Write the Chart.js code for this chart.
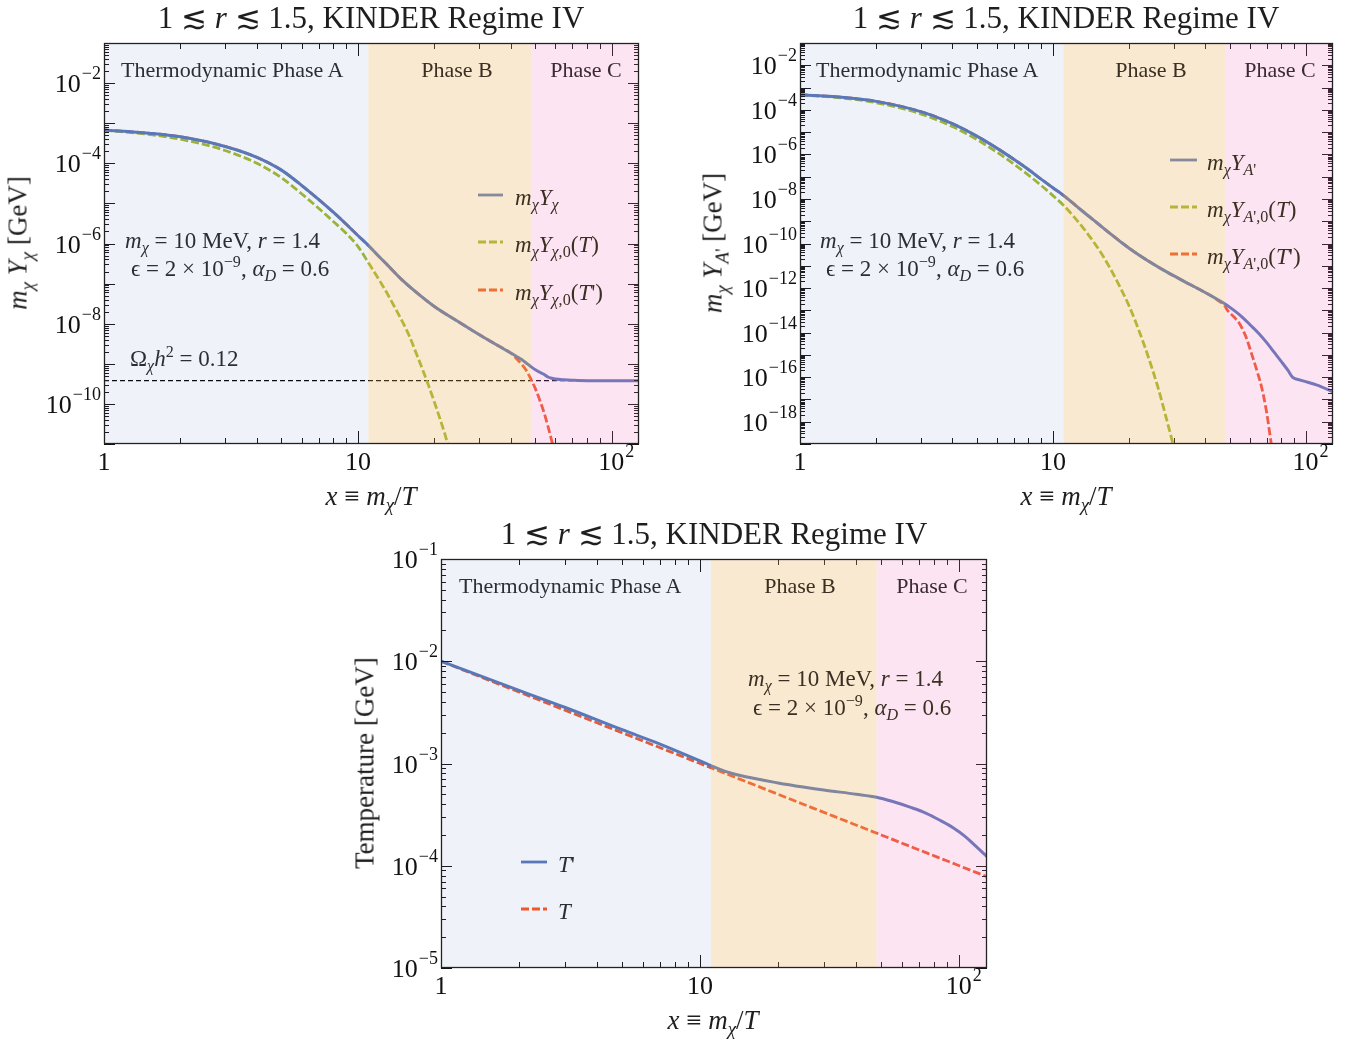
<!DOCTYPE html>
<html>
<head>
<meta charset="utf-8">
<script src="https://cdn.jsdelivr.net/npm/chart.js@4.4.1/dist/chart.umd.min.js"></script>
<style>
body { margin:0; background:#fff; width:1361px; height:1045px; position:relative; overflow:hidden;
  font-family:"Liberation Serif","DejaVu Serif",serif; color:#1e1e1e; }
canvas { position:absolute; }
.t { position:absolute; white-space:nowrap; line-height:1; }
.t sub { font-size:0.7em; vertical-align:-0.35em; line-height:0; }
.t sup { font-size:0.7em; vertical-align:0.55em; line-height:0; }
.lg { position:absolute; }
</style>
</head>
<body>
<canvas id="cChi" width="660" height="510" style="left:0;top:0"></canvas>
<canvas id="cAp" width="681" height="510" style="left:680px;top:0"></canvas>
<canvas id="cTemp" width="680" height="530" style="left:340px;top:515px"></canvas>
<script>
// ---- data ----
var xMax = 128;
var phaseEdges = [11, 48];

// panel 1 : m_chi Y_chi
var xChi = [1, 1.5, 2, 3, 4, 5, 6, 7, 8, 9, 10, 11, 12, 13, 15, 17, 20, 25, 30, 35, 40, 42, 44, 46, 48, 50, 52, 54, 56, 58, 60, 65, 70, 80, 100, 128];
var yChi = [6.76e-4, 5.62e-4, 4.57e-4, 2.63e-4, 1.41e-4, 6.76e-5, 2.82e-5, 1.26e-5, 6.03e-6, 3.02e-6, 1.58e-6, 8.91e-7, 5.01e-7, 3.02e-7, 1.20e-7, 6.03e-8, 2.69e-8, 1.10e-8, 5.37e-9, 3.02e-9, 1.86e-9, 1.55e-9, 1.29e-9, 1.05e-9, 8.51e-10, 7.08e-10, 6.17e-10, 5.50e-10, 4.68e-10, 4.37e-10, 4.17e-10, 3.98e-10, 3.89e-10, 3.80e-10, 3.80e-10, 3.80e-10];
var xChiEqT = [1, 1.5, 2, 3, 4, 5, 6, 7, 8, 9, 10, 11, 12, 13, 14, 15, 16, 17, 18, 19, 20, 22, 24];
var yChiEqT = [6.76e-4, 5.25e-4, 3.98e-4, 2.09e-4, 1.00e-4, 4.37e-5, 1.74e-5, 7.59e-6, 3.55e-6, 1.78e-6, 8.51e-7, 3.31e-7, 1.38e-7, 5.89e-8, 2.51e-8, 1.10e-8, 4.68e-9, 1.78e-9, 7.08e-10, 2.82e-10, 1.12e-10, 1.78e-11, 2.51e-12];
var xChiEqTp = [1, 1.5, 2, 3, 4, 5, 6, 7, 8, 9, 10, 11, 12, 13, 15, 17, 20, 25, 30, 35, 40, 42, 44, 46, 48, 50, 52, 54, 56, 58, 60];
var yChiEqTp = [6.76e-4, 5.62e-4, 4.57e-4, 2.63e-4, 1.41e-4, 6.76e-5, 2.82e-5, 1.26e-5, 6.03e-6, 3.02e-6, 1.58e-6, 8.91e-7, 5.01e-7, 3.02e-7, 1.20e-7, 6.03e-8, 2.69e-8, 1.10e-8, 5.37e-9, 3.02e-9, 1.86e-9, 1.38e-9, 1.00e-9, 6.92e-10, 4.17e-10, 2.40e-10, 1.26e-10, 6.31e-11, 2.82e-11, 1.20e-11, 5.01e-12];
var xOmega = [1, 128];
var yOmega = [3.8e-10, 3.8e-10];

// panel 2 : m_chi Y_A'
var xAp = [1, 1.5, 2, 3, 4, 5, 6, 7, 8, 9, 10, 11, 12, 13, 15, 17, 19, 21, 25, 28.5, 33, 38.5, 43, 47.6, 52, 56, 60.7, 65, 70, 75, 80, 85, 88.7, 95, 101.7, 110, 130];
var yAp = [4.79e-4, 3.55e-4, 2.40e-4, 8.32e-5, 2.40e-5, 6.61e-6, 1.91e-6, 6.03e-7, 2.09e-7, 7.59e-8, 3.16e-8, 1.45e-8, 6.46e-9, 3.02e-9, 8.13e-10, 2.57e-10, 9.55e-11, 4.17e-11, 1.17e-11, 4.90e-12, 2.00e-12, 7.94e-13, 3.98e-13, 2.04e-13, 1.00e-13, 5.01e-14, 2.04e-14, 9.33e-15, 3.55e-15, 1.29e-15, 5.01e-16, 2.00e-16, 9.77e-17, 7.41e-17, 5.89e-17, 4.47e-17, 2.04e-17];
var xApEqT = [1, 1.5, 2, 3, 4, 5, 6, 7, 8, 9, 10, 11, 12, 13, 14, 15, 16, 17, 18, 20, 22, 24, 26, 28, 30, 31];
var yApEqT = [4.79e-4, 3.31e-4, 2.09e-4, 6.61e-5, 1.78e-5, 4.68e-6, 1.26e-6, 3.72e-7, 1.17e-7, 3.98e-8, 1.41e-8, 5.25e-9, 1.78e-9, 6.03e-10, 2.00e-10, 6.61e-11, 2.09e-11, 6.31e-12, 1.86e-12, 1.58e-13, 1.05e-14, 6.31e-16, 3.55e-17, 1.58e-18, 7.59e-20, 1.58e-20];
var xApEqTp = [1, 1.5, 2, 3, 4, 5, 6, 7, 8, 9, 10, 11, 12, 13, 15, 17, 19, 21, 25, 28.5, 33, 38.5, 43, 45, 47.6, 49, 52, 55, 58, 61, 64, 67, 70, 73, 75];
var yApEqTp = [4.79e-4, 3.55e-4, 2.40e-4, 8.32e-5, 2.40e-5, 6.61e-6, 1.91e-6, 6.03e-7, 2.09e-7, 7.59e-8, 3.16e-8, 1.45e-8, 6.46e-9, 3.02e-9, 8.13e-10, 2.57e-10, 9.55e-11, 4.17e-11, 1.17e-11, 4.90e-12, 2.00e-12, 7.94e-13, 3.98e-13, 2.75e-13, 1.66e-13, 1.00e-13, 5.01e-14, 2.24e-14, 6.31e-15, 1.12e-15, 2.00e-16, 3.16e-17, 2.51e-18, 1.00e-19, 1.58e-20];

// panel 3 : temperatures
var xTp = [1, 2, 3, 5, 7, 10, 11, 12, 13, 15, 20, 25, 30, 40, 48, 55, 65, 75, 85, 95, 105, 115, 128];
var yTp = [1.00e-2, 5.19e-3, 3.55e-3, 2.14e-3, 1.55e-3, 1.06e-3, 9.55e-4, 8.71e-4, 8.13e-4, 7.41e-4, 6.46e-4, 5.89e-4, 5.50e-4, 5.01e-4, 4.68e-4, 4.27e-4, 3.72e-4, 3.24e-4, 2.75e-4, 2.34e-4, 1.95e-4, 1.58e-4, 1.23e-4];
var xT = [1, 2, 5, 10, 20, 50, 100, 128];
var yT = [1.0e-2, 5.0e-3, 2.0e-3, 1.0e-3, 5.0e-4, 2.0e-4, 1.0e-4, 7.81e-5];

// tick labels
var xLabelExps = [0, 1, 2];
var yExpsChi = [-10, -8, -6, -4, -2];
var yExpsAp = [-18, -16, -14, -12, -10, -8, -6, -4, -2];
var yExpsTemp = [-5, -4, -3, -2, -1];

// ---- styles ----
var BLUE = '#5876b8', GREEN = '#a2b82a', RED = '#f0562a';
var BANDS = ['rgba(100,140,200,0.10)', 'rgba(235,175,90,0.28)', 'rgba(240,120,190,0.20)'];
var FONT = '"Liberation Serif","DejaVu Serif",serif';

function pts(xs, ys) {
	return xs.map(function(x, i) { return { x: x, y: ys[i] }; });
}

function solid(xs, ys, color) {
	return { data: pts(xs, ys), borderColor: color, borderWidth: 3, cubicInterpolationMode: 'monotone' };
}

function dashed(xs, ys, color) {
	return { data: pts(xs, ys), borderColor: color, borderWidth: 2.8, borderDash: [8, 3], cubicInterpolationMode: 'monotone' };
}

function drawPow(ctx, exp, x, y, align) {
	var ex = exp < 0 ? '\u2212' + (-exp) : String(exp);
	var big = 26, small = 18;
	ctx.font = small + 'px ' + FONT;
	var we = ctx.measureText(ex).width;
	ctx.font = big + 'px ' + FONT;
	var wb = ctx.measureText('10').width;
	var x0 = align === 'right' ? x - we - wb : x - (we + wb) / 2;
	ctx.textAlign = 'left';
	ctx.textBaseline = 'alphabetic';
	ctx.fillText('10', x0, y + 9);
	ctx.font = small + 'px ' + FONT;
	ctx.fillText(ex, x0 + wb + 1, y - 4);
}

// frame, inward ticks, phase bands and tick labels
function framePlugin(yExps) {
	return {
		id: 'frame',
		afterDatasetsDraw: function(chart) {
			var ctx = chart.ctx, a = chart.chartArea;
			var xs = chart.scales.x, ys = chart.scales.y;
			ctx.save();
			ctx.strokeStyle = '#111';
			ctx.lineWidth = 1;
			ctx.beginPath();
			for (var e = 0; e <= 2; e++) {
				for (var m = 1; m <= 9; m++) {
					var v = m * Math.pow(10, e);
					if (v > xs.max) break;
					var px = Math.round(xs.getPixelForValue(v)) + 0.5;
					var len = m === 1 ? 13 : 6;
					ctx.moveTo(px, a.bottom); ctx.lineTo(px, a.bottom - len);
					ctx.moveTo(px, a.top); ctx.lineTo(px, a.top + len);
				}
			}
			var e0 = Math.round(Math.log10(ys.min)), e1 = Math.round(Math.log10(ys.max));
			for (var d = e0; d <= e1; d++) {
				for (var k = 1; k <= 9; k++) {
					var val = k * Math.pow(10, d);
					if (val > ys.max * 1.0001) break;
					var py = Math.round(ys.getPixelForValue(val)) + 0.5;
					var l = k === 1 ? 11 : 5;
					ctx.moveTo(a.left, py); ctx.lineTo(a.left + l, py);
					ctx.moveTo(a.right, py); ctx.lineTo(a.right - l, py);
				}
			}
			ctx.stroke();

			// translucent phase bands laid over the curves
			var edges = [a.left, xs.getPixelForValue(phaseEdges[0]), xs.getPixelForValue(phaseEdges[1]), a.right];
			for (var b = 0; b < 3; b++) {
				ctx.fillStyle = BANDS[b];
				ctx.fillRect(edges[b], a.top, edges[b + 1] - edges[b], a.bottom - a.top);
			}

			ctx.strokeStyle = '#222';
			ctx.lineWidth = 1.3;
			ctx.strokeRect(a.left + 0.5, a.top + 0.5, a.right - a.left - 1, a.bottom - a.top - 1);

			ctx.fillStyle = '#111';
			yExps.forEach(function(ex) {
				drawPow(ctx, ex, a.left - 4, ys.getPixelForValue(Math.pow(10, ex)), 'right');
			});
			xLabelExps.forEach(function(ex) {
				var px = xs.getPixelForValue(Math.pow(10, ex));
				var yb = a.bottom + 26;
				ctx.font = '26px ' + FONT;
				ctx.textBaseline = 'alphabetic';
				if (ex === 0) { ctx.textAlign = 'center'; ctx.fillText('1', px, yb); }
				else if (ex === 1) { ctx.textAlign = 'center'; ctx.fillText('10', px, yb); }
				else { drawPow(ctx, ex, px + 4, yb - 9, 'center'); }
			});
			ctx.restore();
		}
	};
}

function makeChart(id, datasets, ymin, ymax, padding, yExps) {
	var ctx = document.getElementById(id).getContext('2d');
	return new Chart(ctx, {
		type: 'line',
		data: { datasets: datasets },
		options: {
			responsive: false,
			animation: false,
			devicePixelRatio: 1,
			layout: { padding: padding },
			elements: { point: { radius: 0 } },
			plugins: { legend: { display: false }, title: { display: false }, tooltip: { enabled: false } },
			scales: {
				x: { type: 'logarithmic', min: 1, max: xMax, display: false },
				y: { type: 'logarithmic', min: ymin, max: ymax, display: false }
			}
		},
		plugins: [framePlugin(yExps)]
	});
}

var omega = dashed(xOmega, yOmega, '#000');
omega.borderWidth = 1.2;
omega.borderDash = [5, 3];

makeChart('cChi', [
	solid(xChi, yChi, BLUE),
	dashed(xChiEqT, yChiEqT, GREEN),
	dashed(xChiEqTp, yChiEqTp, RED),
	omega
], 1e-11, 1e-1, { left: 104, top: 43, right: 21, bottom: 66 }, yExpsChi);

makeChart('cAp', [
	solid(xAp, yAp, BLUE),
	dashed(xApEqT, yApEqT, GREEN),
	dashed(xApEqTp, yApEqTp, RED)
], 1e-19, 1e-1, { left: 120, top: 43, right: 28, bottom: 66 }, yExpsAp);

makeChart('cTemp', [
	solid(xTp, yTp, BLUE),
	dashed(xT, yT, RED)
], 1e-5, 1e-1, { left: 101, top: 44, right: 33, bottom: 77 }, yExpsTemp);

// ---- text overlays ----
function txt(html, x, y, size, opts) {
	opts = opts || {};
	var d = document.createElement('div');
	d.className = 't';
	d.innerHTML = html;
	d.style.left = x + 'px';
	d.style.top = y + 'px';
	d.style.fontSize = size + 'px';
	if (opts.color) d.style.color = opts.color;
	var tr = opts.center ? 'translate(-50%,-50%)' : 'translate(0,-50%)';
	if (opts.rotate) tr = 'translate(-50%,-50%) rotate(-90deg)';
	d.style.transform = tr;
	document.body.appendChild(d);
}

function legendLine(x, y, w, color, dash) {
	var s = document.createElementNS('http://www.w3.org/2000/svg', 'svg');
	s.setAttribute('class', 'lg');
	s.setAttribute('width', w);
	s.setAttribute('height', 6);
	s.style.left = x + 'px';
	s.style.top = (y - 3) + 'px';
	s.innerHTML = '<line x1="0" y1="3" x2="' + w + '" y2="3" stroke="' + color + '" stroke-width="2.8"' +
		(dash ? ' stroke-dasharray="8,3"' : '') + '/>';
	document.body.appendChild(s);
}

var TITLE = '1 &#8818; <i>r</i> &#8818; 1.5, KINDER Regime IV';
var XTITLE = '<i>x</i> &#8801; <i>m</i><sub><i>&chi;</i></sub>/<i>T</i>';
var ANN1 = '<i>m</i><sub><i>&chi;</i></sub> = 10 MeV, <i>r</i> = 1.4';
var ANN2 = '&#1013; = 2 &times; 10<sup>&minus;9</sup>, <i>&alpha;</i><sub><i>D</i></sub> = 0.6';
var CA = '#2b2e35', CB = '#3a2f22', CC = '#3a2a36';

txt(TITLE, 371, 17, 31, { center: true });
txt(TITLE, 1066, 17, 31, { center: true });
txt(TITLE, 714, 533, 31, { center: true });

txt('Thermodynamic Phase A', 121, 70, 22, { color: CA });
txt('Phase B', 457, 70, 22, { center: true, color: CB });
txt('Phase C', 586, 70, 22, { center: true, color: CC });
txt('Thermodynamic Phase A', 816, 70, 22, { color: CA });
txt('Phase B', 1151, 70, 22, { center: true, color: CB });
txt('Phase C', 1280, 70, 22, { center: true, color: CC });
txt('Thermodynamic Phase A', 459, 586, 22, { color: CA });
txt('Phase B', 800, 586, 22, { center: true, color: CB });
txt('Phase C', 932, 586, 22, { center: true, color: CC });

txt(ANN1, 125, 240, 23, { color: CA });
txt(ANN2, 131, 268, 23, { color: CA });
txt('&Omega;<sub><i>&chi;</i></sub><i>h</i><sup>2</sup> = 0.12', 130, 358, 23, { color: CA });
txt(ANN1, 820, 240, 23, { color: CA });
txt(ANN2, 826, 268, 23, { color: CA });
txt(ANN1, 748, 678, 23, { color: CB });
txt(ANN2, 753, 707, 23, { color: CB });

// legends
legendLine(478, 195, 25, '#868a9c', false);
legendLine(478, 242, 25, '#b7b43a', true);
legendLine(478, 290, 25, '#ee7035', true);
txt('<i>m</i><sub><i>&chi;</i></sub><i>Y</i><sub><i>&chi;</i></sub>', 515, 197, 23, { color: CB });
txt('<i>m</i><sub><i>&chi;</i></sub><i>Y</i><sub><i>&chi;</i>,0</sub>(<i>T</i>)', 515, 244, 23, { color: CB });
txt('<i>m</i><sub><i>&chi;</i></sub><i>Y</i><sub><i>&chi;</i>,0</sub>(<i>T</i>&#39;)', 515, 292, 23, { color: CB });

legendLine(1170, 160, 27, '#868a9c', false);
legendLine(1170, 207, 27, '#b7b43a', true);
legendLine(1170, 254, 27, '#ee7035', true);
txt('<i>m</i><sub><i>&chi;</i></sub><i>Y</i><sub><i>A</i>&#39;</sub>', 1207, 162, 23, { color: CB });
txt('<i>m</i><sub><i>&chi;</i></sub><i>Y</i><sub><i>A</i>&#39;,0</sub>(<i>T</i>)', 1207, 209, 23, { color: CB });
txt('<i>m</i><sub><i>&chi;</i></sub><i>Y</i><sub><i>A</i>&#39;,0</sub>(<i>T</i>&#39;)', 1207, 256, 23, { color: CB });

legendLine(521, 862, 26, BLUE, false);
legendLine(521, 909, 26, RED, true);
txt('<i>T</i>&#39;', 558, 864, 23, { color: CA });
txt('<i>T</i>', 558, 911, 23, { color: CA });

// axis titles
txt(XTITLE, 371, 496, 27, { center: true });
txt(XTITLE, 1066, 496, 27, { center: true });
txt(XTITLE, 713, 1020, 27, { center: true });
txt('<i>m</i><sub><i>&chi;</i></sub> <i>Y</i><sub><i>&chi;</i></sub> [GeV]', 18, 243, 27, { rotate: true });
txt('<i>m</i><sub><i>&chi;</i></sub> <i>Y</i><sub><i>A</i>&#39;</sub> [GeV]', 713, 243, 27, { rotate: true });
txt('Temperature [GeV]', 365, 763, 27, { rotate: true });
</script>
</body>
</html>
